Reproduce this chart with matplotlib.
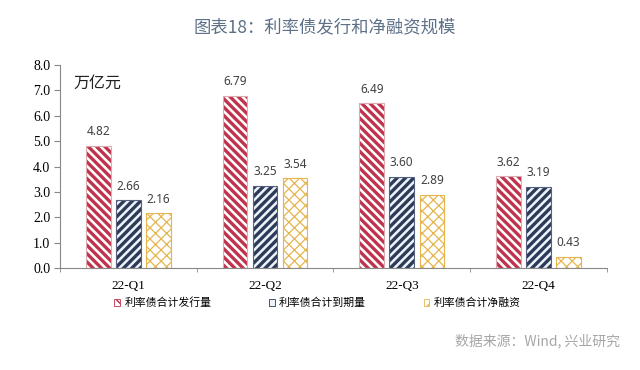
import matplotlib
matplotlib.use('Agg')
import matplotlib.pyplot as plt
from matplotlib.patches import Patch
import numpy as np

plt.rcParams['font.family'] = ['Noto Sans CJK SC', 'DejaVu Sans']

quarters = ['22-Q1', '22-Q2', '22-Q3', '22-Q4']
issue = [4.82, 6.79, 6.49, 3.62]
maturity = [2.66, 3.25, 3.60, 3.19]
net_fin = [2.16, 3.54, 2.89, 0.43]
names = ['利率债合计发行量', '利率债合计到期量', '利率债合计净融资']

# hatch colour, face colour, outline colour, hatch pattern, hatch width
styles = [
    ('#c0334d', 'white', '#deaab2', '\\\\\\\\', 2.4),
    ('#2e3b58', '#edf3fb', '#55617e', '////', 2.4),
    ('#e5b54e', 'white', '#e5b54e', 'xxx', 0.9),
]

fig = plt.figure(figsize=(6.4, 3.7), dpi=100)
ax = fig.add_axes([0.094, 0.2757, 0.854, 0.5486])

x = np.arange(len(quarters))
offsets = [-0.22, 0.0, 0.22]
w = 0.18
for vals, off, (hc, fc, ec, hatch, hlw) in zip([issue, maturity, net_fin], offsets, styles):
    with plt.rc_context({'hatch.linewidth': hlw}):
        bars = ax.bar(x + off, vals, w, color=fc, edgecolor=hc, hatch=hatch, linewidth=0)
    ax.bar(x + off, vals, w, fill=False, edgecolor=ec, linewidth=0.8)
    for b, v in zip(bars, vals):
        ax.annotate(f'{v:.2f}', (b.get_x() + b.get_width() / 2, v), xytext=(0, 5.5),
                    textcoords='offset points', ha='center', va='bottom',
                    fontsize=8.5, color='#404040', family='Noto Sans')

ax.set_xlim(-0.5, 3.5)
ax.set_ylim(0, 8)
ax.set_yticks(np.arange(0, 8.1, 1.0))
ax.set_yticklabels([f'{v:.1f}' for v in np.arange(0, 8.1, 1.0)],
                   family='Liberation Serif', fontsize=10)
ax.set_xticks(x)
ax.set_xticklabels(quarters, family='Liberation Serif', fontsize=9.5)
ax.set_xticks(np.arange(-0.5, 3.6, 1.0), minor=True)
ax.tick_params(axis='x', which='major', length=0, pad=9)
ax.tick_params(axis='x', which='minor', length=3, color='#888888', direction='out')
ax.tick_params(axis='y', length=4, color='#888888', pad=3)
for s in ['top', 'right']:
    ax.spines[s].set_visible(False)
for s in ['left', 'bottom']:
    ax.spines[s].set_color('#888888')

ax.text(0.025, 0.91, '万亿元', transform=ax.transAxes, fontsize=11.5, color='#222222',
        va='center')

handles = []
for hc, fc, ec, hatch, hlw in styles:
    with plt.rc_context({'hatch.linewidth': 1.0}):
        handles.append(Patch(facecolor=fc, edgecolor=hc, hatch=hatch[:2], linewidth=0.6))
fig.legend(handles, names, loc='center', bbox_to_anchor=(0.496, 1 - 303 / 370), ncol=3,
           frameon=False, fontsize=7.8, handlelength=0.55, handleheight=0.55,
           handletextpad=0.4, columnspacing=5.3)

fig.text(0.508, 1 - 27 / 370, '图表18：利率债发行和净融资规模', ha='center', va='center',
         fontsize=12.5, color='#5d7088')
fig.text(0.968, 1 - 341 / 370, '数据来源：Wind, 兴业研究', ha='right', va='center',
         fontsize=10, color='#a6a6a6')

fig.savefig('out.png', dpi=100, facecolor='white')
